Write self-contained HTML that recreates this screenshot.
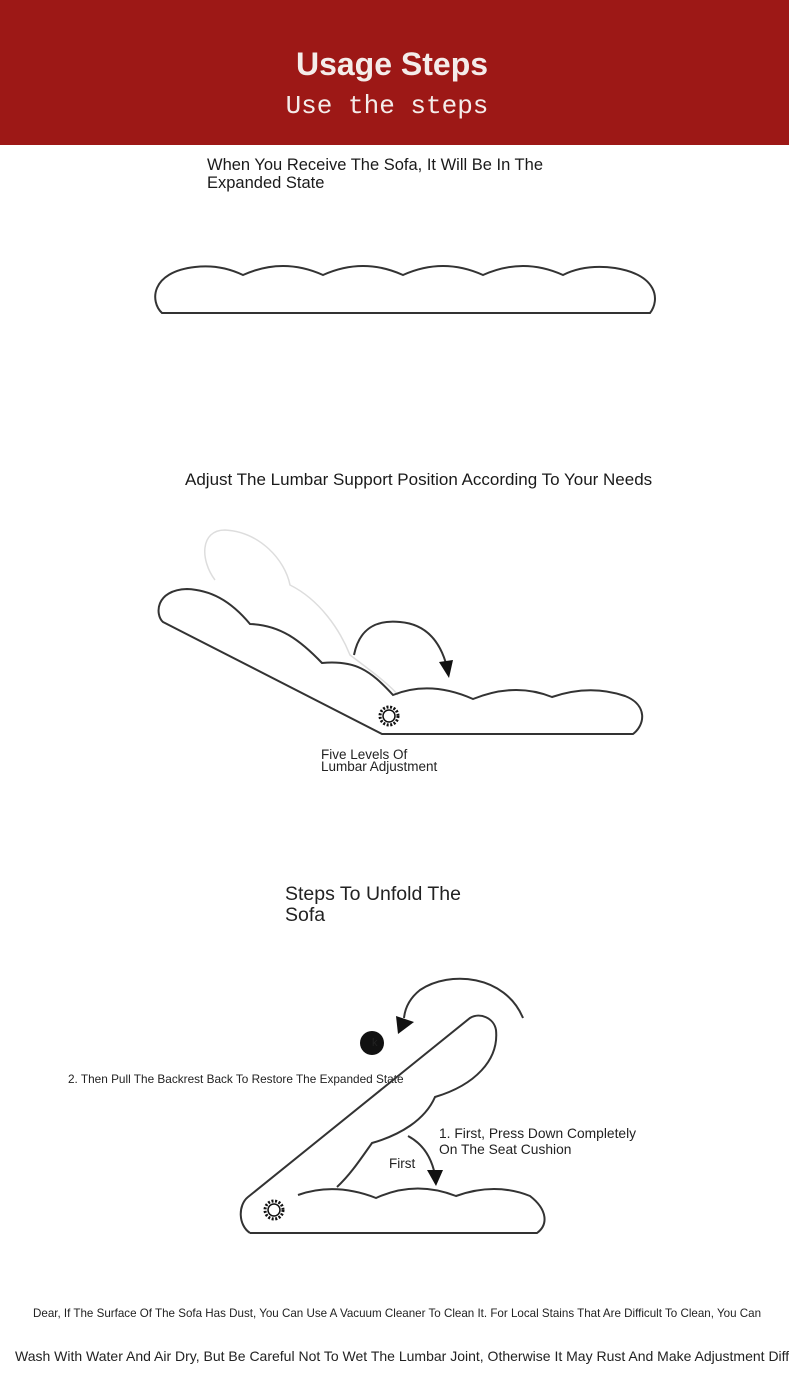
<!DOCTYPE html>
<html><head><meta charset="utf-8"><style>
body{margin:0;width:789px;height:1387px;background:#fff;position:relative;overflow:hidden;font-family:"Liberation Sans",sans-serif;color:#222}
.hdr{position:absolute;left:0;top:0;width:789px;height:145px;background:#9d1816}
.t{position:absolute;white-space:nowrap}
</style></head><body>
<div class="hdr"></div>
<div class="t" style="left:0;width:784px;text-align:center;top:46px;font-size:32px;font-weight:bold;color:#f4ecea">Usage Steps</div>
<div class="t" style="left:0;width:774px;text-align:center;top:91px;font-size:26px;font-family:'Liberation Mono',monospace;color:#f4ecea">Use the steps</div>
<div class="t" style="left:207px;top:156px;font-size:16.5px;line-height:18px;color:#1a1a1a">When You Receive The Sofa, It Will Be In The<br>Expanded State</div>
<div class="t" style="left:185px;top:470px;font-size:17px;color:#1a1a1a">Adjust The Lumbar Support Position According To Your Needs</div>
<div class="t" style="left:321px;top:749px;font-size:13.5px;line-height:12px">Five Levels Of<br>Lumbar Adjustment</div>
<div class="t" style="left:285px;top:884px;font-size:19.5px;line-height:21px">Steps To Unfold The<br>Sofa</div>
<div class="t" style="left:68px;top:1072px;font-size:11.8px">2. Then Pull The Backrest Back To Restore The Expanded State</div>
<div class="t" style="left:439px;top:1126px;font-size:13.8px;line-height:16px">1. First, Press Down Completely<br>On The Seat Cushion</div>
<div class="t" style="left:389px;top:1156px;font-size:13.5px">First</div>
<div class="t" style="left:33px;top:1307px;font-size:11.6px">Dear, If The Surface Of The Sofa Has Dust, You Can Use A Vacuum Cleaner To Clean It. For Local Stains That Are Difficult To Clean, You Can</div>
<div class="t" style="left:15px;top:1348px;font-size:14px">Wash With Water And Air Dry, But Be Careful Not To Wet The Lumbar Joint, Otherwise It May Rust And Make Adjustment Difficult</div>
<svg width="789" height="1387" style="position:absolute;left:0;top:0" fill="none" stroke="#333" stroke-width="2">
<path d="M162,313 L650,313 C660,300 658,275 615,268 Q585,264 563,275 Q523,257 483,275 Q443,257 403,275 Q363,257 323,275 Q283,257 243,275 Q220,264 195,267 C150,272 150,302 162,313 Z"/>
<path stroke="#ddd" stroke-width="1.5" d="M215,580 C200,560 200,530 225,530 C260,532 285,560 290,585 C320,600 340,630 350,655 C370,670 390,685 398,695"/>
<path d="M163,622 L382,734 L633,734 C645,725 648,705 625,696 Q590,684 552,697 Q515,682 473,699 Q430,680 393,695 C370,670 355,660 322,663 C300,640 280,625 250,624 C230,600 210,590 187,589 C155,590 155,615 163,622 Z"/>
<path d="M354,655 C360,625 380,620 400,622 C425,624 440,640 447,667"/>
<path fill="#111" stroke="none" d="M439,662 L453,660 L449,678 Z"/>
<path d="M250,1233 L537,1233 C548,1225 548,1210 530,1196 Q495,1182 456,1196 Q415,1180 376,1198 Q335,1182 298,1195"/>
<path d="M250,1233 C238,1225 238,1205 248,1197 L470,1018 C480,1012 494,1018 496,1030 C499,1060 475,1085 435,1097 C425,1120 400,1135 372,1143 C360,1160 350,1175 337,1187"/>
<path d="M523,1018 C505,975 450,970 420,990 C410,998 405,1008 404,1018"/>
<path fill="#111" stroke="none" d="M396,1016 L414,1022 L398,1034 Z"/>
<path d="M408,1136 C425,1145 432,1160 435,1175"/>
<path fill="#111" stroke="none" d="M427,1170 L443,1170 L436,1186 Z"/>
<circle cx="372" cy="1043" r="12" fill="#111" stroke="none"/>
<g stroke="#111" stroke-width="1.5"><circle cx="389" cy="716" r="9" stroke-width="3" stroke-dasharray="2 1.6"/><circle cx="389" cy="716" r="6"/>
<circle cx="274" cy="1210" r="9" stroke-width="3" stroke-dasharray="2 1.6"/><circle cx="274" cy="1210" r="6"/></g>
</svg>
<div class="t" style="left:372px;top:1037px;font-size:11px">k</div>
</body></html>
